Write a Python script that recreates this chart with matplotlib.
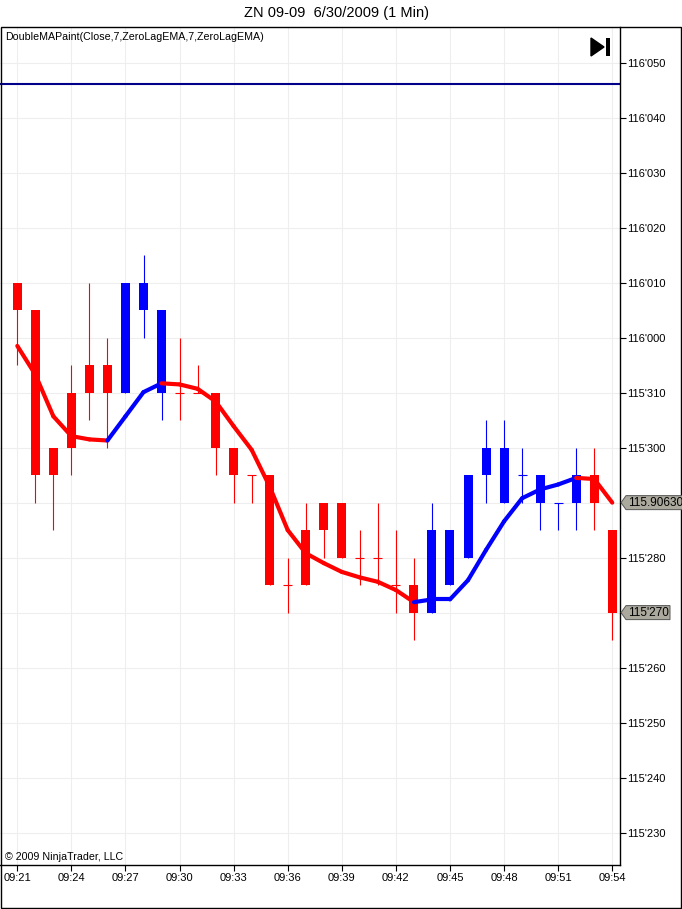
import matplotlib
matplotlib.use("Agg")
import matplotlib.pyplot as plt
from matplotlib.collections import LineCollection
from matplotlib.patches import Polygon, Rectangle

# prices in 32nds above 115 (e.g. 33.0 -> 116'010, 29.5 -> 115'295)
opens = [33.0, 32.5, 29.5, 30.0, 31.0, 31.5, 31.0, 33.0, 32.5, 31.0, 31.0, 31.0,
         30.0, 29.5, 29.5, 27.5, 27.5, 28.5, 29.0, 28.0, 28.0, 27.5, 27.5, 27.0,
         27.5, 28.0, 29.5, 29.0, 29.5, 29.5, 29.0, 29.0, 29.5, 28.5]
highs = [33.0, 32.5, 30.0, 31.5, 33.0, 32.0, 33.0, 33.5, 32.5, 32.0, 31.5, 31.0,
         30.0, 29.5, 29.5, 28.0, 29.0, 29.0, 29.0, 28.5, 29.0, 28.5, 28.0, 29.0,
         28.5, 29.5, 30.5, 30.5, 30.0, 29.5, 29.0, 30.0, 30.0, 28.5]
lows = [31.5, 29.0, 28.5, 29.5, 30.5, 30.0, 31.0, 32.0, 30.5, 30.5, 31.0, 29.5,
        29.0, 29.0, 27.5, 27.0, 27.5, 28.0, 28.0, 27.5, 27.5, 27.0, 26.5, 27.0,
        27.5, 28.0, 29.0, 29.0, 29.0, 28.5, 28.5, 28.5, 28.5, 26.5]
closes = [32.5, 29.5, 30.0, 31.0, 31.5, 31.0, 33.0, 32.5, 31.0, 31.0, 31.0, 30.0,
          29.5, 29.5, 27.5, 27.5, 28.5, 29.0, 28.0, 28.0, 28.0, 27.5, 27.0, 28.5,
          28.5, 29.5, 30.0, 30.0, 29.5, 29.0, 29.0, 29.5, 29.0, 27.0]
zlema = [31.85, 31.33, 30.57, 30.21, 30.15, 30.13, 30.57, 31.01, 31.17, 31.15,
         31.07, 30.84, 30.39, 29.96, 29.29, 28.50, 28.08, 27.90, 27.74, 27.64,
         27.56, 27.41, 27.19, 27.24, 27.24, 27.59, 28.14, 28.66, 29.08, 29.24,
         29.33, 29.45, 29.43, 29.00]
paint = ['r'] * 6 + ['b'] * 3 + ['r'] * 14 + ['b'] * 9 + ['r'] * 2
hline_level = 36.62

xtick_pos = [0, 3, 6, 9, 12, 15, 18, 21, 24, 27, 30, 33]
xtick_labels = ['09:21', '09:24', '09:27', '09:30', '09:33', '09:36',
                '09:39', '09:42', '09:45', '09:48', '09:51', '09:54']
ytick_pos = [23, 24, 25, 26, 27, 28, 29, 30, 31, 32, 33, 34, 35, 36, 37]
ytick_labels = ["115'230", "115'240", "115'250", "115'260", "115'270", "115'280",
                "115'290", "115'300", "115'310", "116'000", "116'010", "116'020",
                "116'030", "116'040", "116'050"]
last_ma_label = "115.90630"
last_close_label = "115'270"

W, H = 682, 909
COLORS = {'r': '#FF0000', 'b': '#0000FF'}
plt.rcParams['font.family'] = ['Liberation Sans', 'DejaVu Sans']

fig = plt.figure(figsize=(W / 100, H / 100), dpi=100)
fig.patch.set_facecolor('white')


def fx(x, y):
    return (x / W, 1 - y / H)


ax = fig.add_axes([0, 1 - 865 / H, 620 / W, (865 - 27) / H])
ax.set_xlim(-0.96, 33.43)
ax.set_ylim(22.41, 37.65)

# grid
for p in xtick_pos:
    ax.axvline(p, color='#EEEEEE', lw=0.8, zorder=0)
for p in ytick_pos:
    ax.axhline(p, color='#EEEEEE', lw=0.8, zorder=0)

ax.axhline(hline_level, color='#00008B', lw=1.5, zorder=2)

# candles
for i in range(len(opens)):
    c = COLORS[paint[i]]
    ax.vlines(i, lows[i], highs[i], color=c, lw=0.8, zorder=3)
    top, bot = max(opens[i], closes[i]), min(opens[i], closes[i])
    if top == bot:
        ax.hlines(top, i - 0.25, i + 0.25, color=c, lw=0.8, zorder=3)
    else:
        ax.bar(i, top - bot, bottom=bot, width=0.5, color=c, lw=0, zorder=3)

# painted zero lag ema
segs = [[(i - 1, zlema[i - 1]), (i, zlema[i])] for i in range(1, len(zlema))]
lc = LineCollection(segs, colors=[COLORS[p] for p in paint[1:]], linewidths=3.0,
                    capstyle='round', zorder=4)
ax.add_collection(lc)

# axes styling
for s in ['left', 'top']:
    ax.spines[s].set_visible(False)
for s in ['right', 'bottom']:
    ax.spines[s].set_linewidth(1.0)
ax.yaxis.tick_right()
ax.set_yticks(ytick_pos)
# the price markers cover the tick labels at their levels
covered = {round(zlema[-1]), closes[-1]}
ax.set_yticklabels(['' if p in covered else lab
                    for p, lab in zip(ytick_pos, ytick_labels)])
ax.set_xticks(xtick_pos)
ax.set_xticklabels(xtick_labels)
ax.tick_params(axis='y', length=4, width=0.8, pad=1, labelsize=8)
ax.tick_params(axis='x', length=4, width=0.8, pad=2, labelsize=8)

ax.text(0.008, 0.994, "DoubleMAPaint(Close,7,ZeroLagEMA,7,ZeroLagEMA)",
        transform=ax.transAxes, ha='left', va='top', fontsize=7.7)
ax.text(0.008, 0.003, "\u00a9 2009 NinjaTrader, LLC", transform=ax.transAxes,
        ha='left', va='bottom', fontsize=7.7)

fig.text(*fx(336, 13), "ZN 09-09  6/30/2009 (1 Min)", ha='center', va='center',
         fontsize=10.5)

# outer frame
x0, y0 = fx(0.5, 908)
x1, y1 = fx(681, 27)
fig.add_artist(Rectangle((x0, y0), x1 - x0, y1 - y0, transform=fig.transFigure,
                         fill=False, ec='black', lw=1.0))

# go-to-end button
fig.add_artist(Polygon([fx(591, 38), fx(591, 56), fx(604, 47)], closed=True,
                       transform=fig.transFigure, fc='black', ec='black'))
bx, by = fx(606, 56)
fig.add_artist(Rectangle((bx, by), 4 / W, 18 / H, transform=fig.transFigure,
                         fc='black', ec='none'))


# price markers on the right axis
def marker(value, label, right):
    _, ypx = ax.transData.transform((0, value))
    yc = H - ypx
    pts = [fx(621, yc), fx(626, yc - 7), fx(right, yc - 7),
           fx(right, yc + 7), fx(626, yc + 7)]
    fig.add_artist(Polygon(pts, closed=True, transform=fig.transFigure,
                           fc='#ABA99E', ec='#555555', lw=0.7))
    fig.text(*fx(628, yc), label, ha='left', va='center', fontsize=8.5)


marker(zlema[-1], last_ma_label, 690)
marker(closes[-1], last_close_label, 670)

fig.savefig("out.png", dpi=100)
